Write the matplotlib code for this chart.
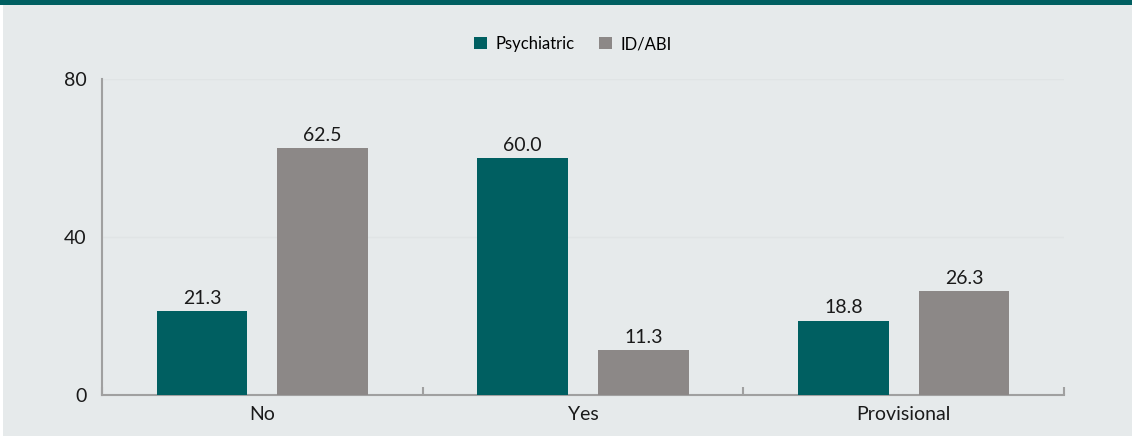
import matplotlib.pyplot as plt
import numpy as np
from matplotlib.patches import Rectangle

categories = ["No", "Yes", "Provisional"]
series_names = ["Psychiatric", "ID/ABI"]
psychiatric = [21.3, 60.0, 18.8]
id_abi = [62.5, 11.3, 26.3]
y_ticks = [0, 40, 80]

teal = "#005F61"
grey = "#8C8887"
bg = "#E6EAEB"

plt.rcParams["font.family"] = ["Lato", "DejaVu Sans"]

fig = plt.figure(figsize=(11.32, 4.37), dpi=100, facecolor="white")
# panel background and the coloured band along the top
fig.patches.append(Rectangle((3 / 1132, 1 / 437), 1 - 3 / 1132, 1 - 6 / 437,
                             transform=fig.transFigure, facecolor=bg, edgecolor="none", zorder=-2))
fig.patches.append(Rectangle((0, 1 - 5 / 437), 1, 5 / 437,
                             transform=fig.transFigure, facecolor=teal, edgecolor="none", zorder=-1))

ax = fig.add_axes([102 / 1132, (437 - 395) / 437, (1064 - 102) / 1132, (395 - 79) / 437])
ax.set_facecolor(bg)
ax.set_zorder(1)

x = np.arange(len(categories))
w = 0.283
off = 0.188
b1 = ax.bar(x - off, psychiatric, w, color=teal, label=series_names[0], zorder=3)
b2 = ax.bar(x + off, id_abi, w, color=grey, label=series_names[1], zorder=3)
for bars, vals in ((b1, psychiatric), (b2, id_abi)):
    for rect, v in zip(bars, vals):
        ax.text(rect.get_x() + rect.get_width() / 2, v + 1.1, f"{v:.1f}",
                ha="center", va="bottom", fontsize=14, color="#1a1a1a", zorder=4)

ax.set_xlim(-0.5, len(categories) - 0.5)
ax.set_ylim(0, 80)
ax.set_yticks(y_ticks)
ax.set_yticklabels([str(t) for t in y_ticks], fontsize=14, color="#1a1a1a")
ax.tick_params(axis="y", length=0, pad=11)
ax.grid(axis="y", color="#E0E4E5", linewidth=1, zorder=0)

# category boundaries as major ticks, names as minor ticks
ax.set_xticks(np.arange(len(categories) + 1) - 0.5)
ax.set_xticklabels([])
ax.set_xticks(x, minor=True)
ax.set_xticklabels(categories, minor=True, fontsize=14, color="#1a1a1a")
ax.tick_params(axis="x", which="major", direction="in", length=6, color="#A0A0A0", width=1.5)
ax.tick_params(axis="x", which="minor", length=0, pad=8)

for s in ("top", "right"):
    ax.spines[s].set_visible(False)
for s in ("left", "bottom"):
    ax.spines[s].set_color("#A0A0A0")
    ax.spines[s].set_linewidth(1.5)

fig.legend(handles=[b1, b2], loc="center", bbox_to_anchor=(573 / 1132, 1 - 44 / 437),
           ncol=2, frameon=False, fontsize=12, handlelength=0.75, handleheight=0.75,
           handletextpad=0.5, columnspacing=1.5)

fig.savefig("out.png", dpi=100, facecolor=fig.get_facecolor())
